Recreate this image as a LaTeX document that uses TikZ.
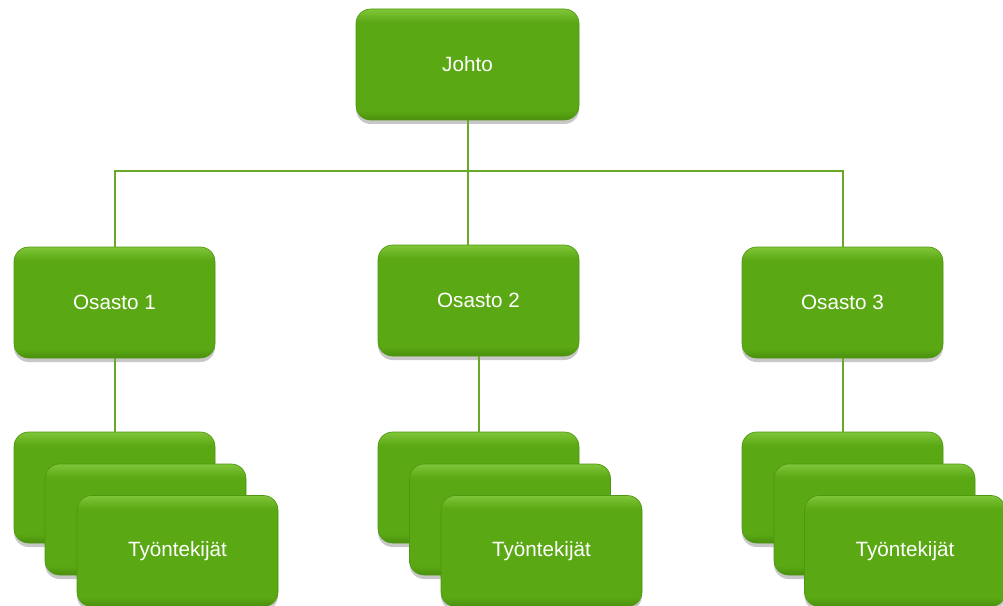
\documentclass[tikz,border=0pt]{standalone}
\usepackage{fontspec}
\setmainfont{Liberation Sans}
\usetikzlibrary{shadows}
\definecolor{boxgreen}{HTML}{5AA813}
\definecolor{boxtop}{HTML}{80C63A}
\definecolor{boxbot}{HTML}{4A8E0E}
\definecolor{boxedge}{HTML}{4E9810}
\definecolor{linegreen}{HTML}{68AA28}
\pgfdeclareverticalshading{gboxshade}{100bp}{color(0bp)=(boxbot); color(25bp)=(boxbot); color(29bp)=(boxgreen); color(69bp)=(boxgreen); color(75bp)=(boxtop); color(100bp)=(boxtop)}
\tikzset{
  gbox/.style={rectangle, rounded corners=11pt, draw=boxedge, line width=0.5pt,
    shading=gboxshade,
    drop shadow={shadow xshift=0pt, shadow yshift=-3pt, opacity=0.22, fill=black},
    text=white, font=\fontsize{15.5}{18}\selectfont,
    minimum width=150.75pt, minimum height=83.25pt, inner sep=0pt},
  widebox/.style={gbox, minimum width=167.25pt},
  conn/.style={draw=linegreen, line width=1.5pt}
}
\begin{document}
\begin{tikzpicture}[x=0.75pt,y=-0.75pt]
\useasboundingbox (0,0) rectangle (1003,606);
% top
\node[widebox] (johto) at (467.5,64.5) {Johto};
% departments
\node[gbox] (o1) at (114.5,302.5) {Osasto 1};
\node[gbox] (o2) at (478.5,300.5) {Osasto 2};
\node[gbox] (o3) at (842.5,302.5) {Osasto 3};
\coordinate (bus) at (0,171);
% connectors top
\draw[conn] (johto.south) -- (johto.south |- o2.north);
\draw[conn] (o1.north) -- (o1.north |- bus) -- (o3.north |- bus) -- (o3.north);
% stacks
\node[gbox] (w1a) at (114.5,487.5) {};
\node[gbox] (w1b) at (145.5,519.5) {};
\node[gbox] (w1c) at (177.5,551) {Työntekijät};
\node[gbox] (w2a) at (478.5,487.5) {};
\node[gbox] (w2b) at (510,519.5) {};
\node[gbox] (w2c) at (541.5,551) {Työntekijät};
\node[gbox] (w3a) at (842.5,487.5) {};
\node[gbox] (w3b) at (874.5,519.5) {};
\node[gbox] (w3c) at (905,551) {Työntekijät};
% connectors down
\draw[conn] (o1.south) -- (w1a.north);
\draw[conn] (o2.south) -- (w2a.north);
\draw[conn] (o3.south) -- (w3a.north);
\end{tikzpicture}
\end{document}
